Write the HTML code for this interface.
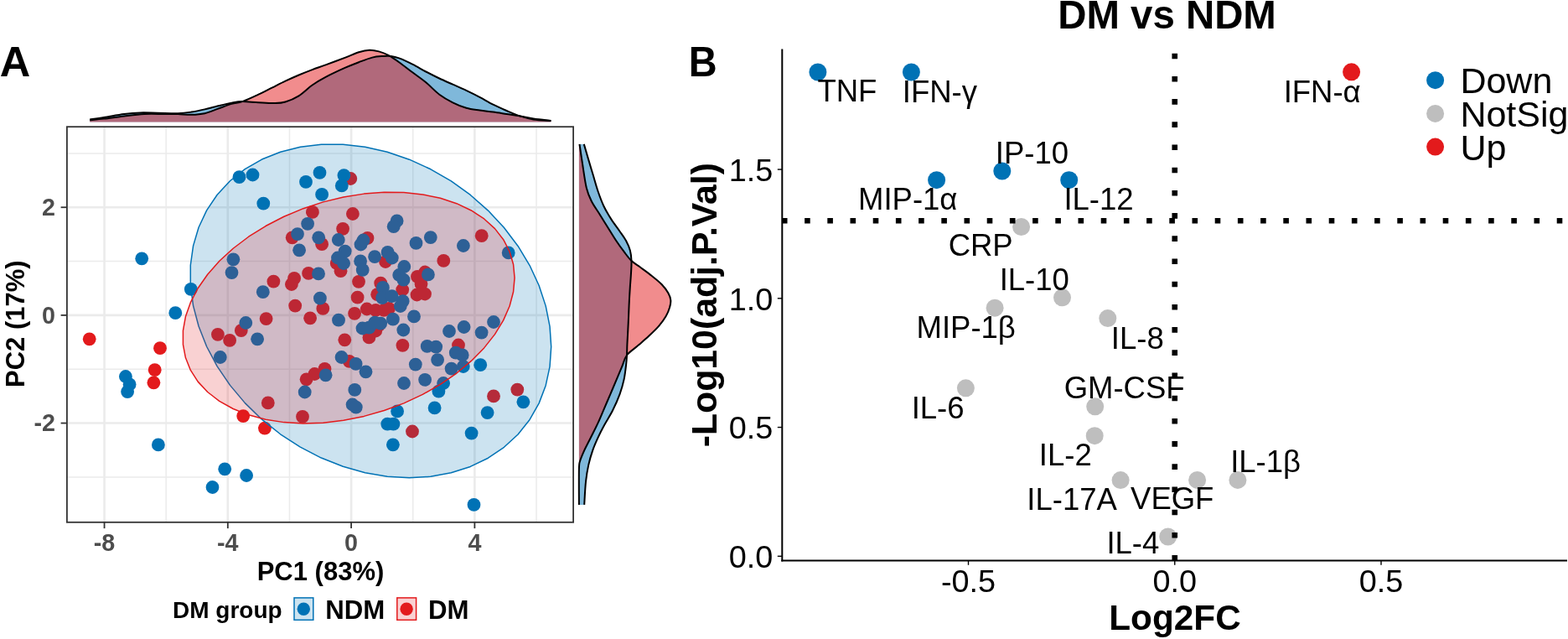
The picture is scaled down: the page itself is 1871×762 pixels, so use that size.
<!DOCTYPE html><html><head><meta charset="utf-8"><style>html,body{margin:0;padding:0;background:#fff;overflow:hidden}svg{display:block}</style></head><body>
<svg width="1871" height="762" viewBox="0 0 1871 762" font-family="&apos;Liberation Sans&apos;, Arial, sans-serif">
<rect width="1871" height="762" fill="#fff"/>
<text x="-0.3" y="90.7" font-size="50.5" font-weight="bold">A</text>
<path d="M107.20,142.40 C110.00,142.00 117.18,141.07 124.00,140.00 C130.82,138.93 140.88,136.93 148.10,136.00 C155.32,135.07 160.62,134.62 167.30,134.40 C173.98,134.18 180.72,134.57 188.20,134.70 C195.68,134.83 205.52,135.38 212.20,135.20 C218.88,135.02 222.95,134.40 228.30,133.60 C233.65,132.80 238.97,131.62 244.30,130.40 C249.63,129.18 254.95,127.58 260.30,126.30 C265.65,125.02 271.58,123.57 276.40,122.70 C281.22,121.83 283.87,121.17 289.20,121.10 C294.53,121.03 301.98,121.97 308.40,122.30 C314.82,122.63 322.35,123.23 327.70,123.10 C333.05,122.97 335.70,122.97 340.50,121.50 C345.30,120.03 351.15,117.63 356.50,114.30 C361.85,110.97 367.25,105.23 372.60,101.50 C377.95,97.77 382.02,95.37 388.60,91.90 C395.18,88.43 405.52,83.65 412.10,80.70 C418.68,77.75 422.77,76.22 428.10,74.20 C433.43,72.18 439.28,69.80 444.10,68.60 C448.92,67.40 453.25,67.27 457.00,67.00 C460.75,66.73 463.40,66.60 466.60,67.00 C469.80,67.40 471.93,67.80 476.20,69.40 C480.47,71.00 486.85,73.92 492.20,76.60 C497.55,79.28 502.95,82.68 508.30,85.50 C513.65,88.32 518.97,90.97 524.30,93.50 C529.63,96.03 534.95,98.30 540.30,100.70 C545.65,103.10 551.05,105.37 556.40,107.90 C561.75,110.43 567.07,113.10 572.40,115.90 C577.73,118.70 583.05,122.02 588.40,124.70 C593.75,127.38 599.15,129.72 604.50,132.00 C609.85,134.28 615.17,136.67 620.50,138.40 C625.83,140.13 630.35,141.47 636.50,142.40 C642.65,143.33 653.92,143.73 657.40,144.00 L657.40,145.60 L107.20,145.60 Z" fill="#0072B5" fill-opacity="0.5"/>
<path d="M107.20,143.20 C110.00,142.93 117.18,142.40 124.00,141.60 C130.82,140.80 140.07,139.33 148.10,138.40 C156.13,137.47 164.18,136.40 172.20,136.00 C180.22,135.60 189.53,136.00 196.20,136.00 C202.87,136.00 206.85,135.87 212.20,136.00 C217.55,136.13 222.95,136.93 228.30,136.80 C233.65,136.67 238.97,136.40 244.30,135.20 C249.63,134.00 254.95,131.48 260.30,129.60 C265.65,127.72 271.58,125.32 276.40,123.90 C281.22,122.48 283.87,122.97 289.20,121.10 C294.53,119.23 302.52,115.43 308.40,112.70 C314.28,109.97 319.15,107.37 324.50,104.70 C329.85,102.03 335.17,99.23 340.50,96.70 C345.83,94.17 351.15,91.77 356.50,89.50 C361.85,87.23 367.25,85.12 372.60,83.10 C377.95,81.08 382.02,79.82 388.60,77.40 C395.18,74.98 405.52,71.13 412.10,68.60 C418.68,66.07 423.30,63.67 428.10,62.20 C432.90,60.73 436.90,59.93 440.90,59.80 C444.90,59.67 448.35,60.38 452.10,61.40 C455.85,62.42 459.38,63.77 463.40,65.90 C467.42,68.03 471.40,70.80 476.20,74.20 C481.00,77.60 486.85,82.28 492.20,86.30 C497.55,90.32 502.95,93.90 508.30,98.30 C513.65,102.70 518.97,108.70 524.30,112.70 C529.63,116.70 534.95,119.62 540.30,122.30 C545.65,124.98 551.05,127.25 556.40,128.80 C561.75,130.35 567.07,130.80 572.40,131.60 C577.73,132.40 583.05,132.87 588.40,133.60 C593.75,134.33 599.15,135.20 604.50,136.00 C609.85,136.80 615.17,137.47 620.50,138.40 C625.83,139.33 630.35,140.67 636.50,141.60 C642.65,142.53 653.92,143.60 657.40,144.00 L657.40,145.60 L107.20,145.60 Z" fill="#E31A1C" fill-opacity="0.5"/>
<path d="M107.20,142.40 C110.00,142.00 117.18,141.07 124.00,140.00 C130.82,138.93 140.88,136.93 148.10,136.00 C155.32,135.07 160.62,134.62 167.30,134.40 C173.98,134.18 180.72,134.57 188.20,134.70 C195.68,134.83 205.52,135.38 212.20,135.20 C218.88,135.02 222.95,134.40 228.30,133.60 C233.65,132.80 238.97,131.62 244.30,130.40 C249.63,129.18 254.95,127.58 260.30,126.30 C265.65,125.02 271.58,123.57 276.40,122.70 C281.22,121.83 283.87,121.17 289.20,121.10 C294.53,121.03 301.98,121.97 308.40,122.30 C314.82,122.63 322.35,123.23 327.70,123.10 C333.05,122.97 335.70,122.97 340.50,121.50 C345.30,120.03 351.15,117.63 356.50,114.30 C361.85,110.97 367.25,105.23 372.60,101.50 C377.95,97.77 382.02,95.37 388.60,91.90 C395.18,88.43 405.52,83.65 412.10,80.70 C418.68,77.75 422.77,76.22 428.10,74.20 C433.43,72.18 439.28,69.80 444.10,68.60 C448.92,67.40 453.25,67.27 457.00,67.00 C460.75,66.73 463.40,66.60 466.60,67.00 C469.80,67.40 471.93,67.80 476.20,69.40 C480.47,71.00 486.85,73.92 492.20,76.60 C497.55,79.28 502.95,82.68 508.30,85.50 C513.65,88.32 518.97,90.97 524.30,93.50 C529.63,96.03 534.95,98.30 540.30,100.70 C545.65,103.10 551.05,105.37 556.40,107.90 C561.75,110.43 567.07,113.10 572.40,115.90 C577.73,118.70 583.05,122.02 588.40,124.70 C593.75,127.38 599.15,129.72 604.50,132.00 C609.85,134.28 615.17,136.67 620.50,138.40 C625.83,140.13 630.35,141.47 636.50,142.40 C642.65,143.33 653.92,143.73 657.40,144.00" fill="none" stroke="#000" stroke-width="2"/>
<path d="M107.20,143.20 C110.00,142.93 117.18,142.40 124.00,141.60 C130.82,140.80 140.07,139.33 148.10,138.40 C156.13,137.47 164.18,136.40 172.20,136.00 C180.22,135.60 189.53,136.00 196.20,136.00 C202.87,136.00 206.85,135.87 212.20,136.00 C217.55,136.13 222.95,136.93 228.30,136.80 C233.65,136.67 238.97,136.40 244.30,135.20 C249.63,134.00 254.95,131.48 260.30,129.60 C265.65,127.72 271.58,125.32 276.40,123.90 C281.22,122.48 283.87,122.97 289.20,121.10 C294.53,119.23 302.52,115.43 308.40,112.70 C314.28,109.97 319.15,107.37 324.50,104.70 C329.85,102.03 335.17,99.23 340.50,96.70 C345.83,94.17 351.15,91.77 356.50,89.50 C361.85,87.23 367.25,85.12 372.60,83.10 C377.95,81.08 382.02,79.82 388.60,77.40 C395.18,74.98 405.52,71.13 412.10,68.60 C418.68,66.07 423.30,63.67 428.10,62.20 C432.90,60.73 436.90,59.93 440.90,59.80 C444.90,59.67 448.35,60.38 452.10,61.40 C455.85,62.42 459.38,63.77 463.40,65.90 C467.42,68.03 471.40,70.80 476.20,74.20 C481.00,77.60 486.85,82.28 492.20,86.30 C497.55,90.32 502.95,93.90 508.30,98.30 C513.65,102.70 518.97,108.70 524.30,112.70 C529.63,116.70 534.95,119.62 540.30,122.30 C545.65,124.98 551.05,127.25 556.40,128.80 C561.75,130.35 567.07,130.80 572.40,131.60 C577.73,132.40 583.05,132.87 588.40,133.60 C593.75,134.33 599.15,135.20 604.50,136.00 C609.85,136.80 615.17,137.47 620.50,138.40 C625.83,139.33 630.35,140.67 636.50,141.60 C642.65,142.53 653.92,143.60 657.40,144.00" fill="none" stroke="#000" stroke-width="2"/>
<path d="M696.80,171.90 C697.62,174.68 699.90,182.53 701.70,188.60 C703.50,194.67 705.63,201.73 707.60,208.30 C709.57,214.87 711.37,221.77 713.50,228.00 C715.63,234.23 717.77,240.13 720.40,245.70 C723.03,251.27 726.18,256.48 729.30,261.40 C732.42,266.32 736.15,270.93 739.10,275.20 C742.05,279.47 744.87,283.07 747.00,287.00 C749.13,290.93 750.82,294.78 751.90,298.80 C752.98,302.82 753.32,306.63 753.50,311.10 C753.68,315.57 753.28,320.35 753.00,325.60 C752.72,330.85 752.17,336.92 751.80,342.60 C751.43,348.28 751.08,354.00 750.80,359.70 C750.52,365.40 750.35,371.12 750.10,376.80 C749.85,382.48 749.58,388.12 749.30,393.80 C749.02,399.48 748.62,405.95 748.40,410.90 C748.18,415.85 748.22,419.48 748.00,423.50 C747.78,427.52 747.67,430.18 747.10,435.00 C746.53,439.82 745.85,446.60 744.60,452.40 C743.35,458.20 741.88,463.57 739.60,469.80 C737.32,476.03 734.02,483.57 730.90,489.80 C727.78,496.03 723.82,501.80 720.90,507.20 C717.98,512.60 715.68,517.22 713.40,522.20 C711.12,527.18 709.07,531.70 707.20,537.10 C705.33,542.50 703.57,548.37 702.20,554.60 C700.83,560.83 699.83,566.62 699.00,574.50 C698.17,582.38 697.50,597.33 697.20,601.90 L690.90,601.90 L690.90,171.90 Z" fill="#0072B5" fill-opacity="0.5"/>
<path d="M691.50,171.90 C692.07,175.67 693.52,185.82 694.90,194.50 C696.28,203.18 698.00,216.45 699.80,224.00 C701.60,231.55 703.08,234.55 705.70,239.80 C708.32,245.05 712.23,250.27 715.50,255.50 C718.77,260.73 722.02,265.95 725.30,271.20 C728.58,276.45 731.92,282.08 735.20,287.00 C738.48,291.92 741.95,296.68 745.00,300.70 C748.05,304.72 750.32,308.08 753.50,311.10 C756.68,314.12 760.05,315.82 764.10,318.80 C768.15,321.78 773.53,325.60 777.80,329.00 C782.07,332.40 786.43,335.78 789.70,339.20 C792.97,342.62 795.63,346.37 797.40,349.50 C799.17,352.63 800.02,355.17 800.30,358.00 C800.58,360.83 800.02,363.37 799.10,366.50 C798.18,369.63 796.93,373.10 794.80,376.80 C792.67,380.50 789.70,384.73 786.30,388.70 C782.90,392.67 778.67,396.62 774.40,400.60 C770.13,404.58 765.10,408.78 760.70,412.60 C756.30,416.42 751.10,419.37 748.00,423.50 C744.90,427.63 744.13,432.58 742.10,437.40 C740.07,442.22 738.08,447.00 735.80,452.40 C733.52,457.80 730.88,463.98 728.40,469.80 C725.92,475.62 723.40,481.48 720.90,487.30 C718.40,493.12 716.10,498.88 713.40,504.70 C710.70,510.52 707.40,516.80 704.70,522.20 C702.00,527.60 699.28,532.53 697.20,537.10 C695.12,541.67 693.25,545.85 692.20,549.60 C691.15,553.35 691.12,550.88 690.90,559.60 C690.68,568.32 690.90,594.85 690.90,601.90 L690.90,601.90 L690.90,171.90 Z" fill="#E31A1C" fill-opacity="0.5"/>
<path d="M696.80,171.90 C697.62,174.68 699.90,182.53 701.70,188.60 C703.50,194.67 705.63,201.73 707.60,208.30 C709.57,214.87 711.37,221.77 713.50,228.00 C715.63,234.23 717.77,240.13 720.40,245.70 C723.03,251.27 726.18,256.48 729.30,261.40 C732.42,266.32 736.15,270.93 739.10,275.20 C742.05,279.47 744.87,283.07 747.00,287.00 C749.13,290.93 750.82,294.78 751.90,298.80 C752.98,302.82 753.32,306.63 753.50,311.10 C753.68,315.57 753.28,320.35 753.00,325.60 C752.72,330.85 752.17,336.92 751.80,342.60 C751.43,348.28 751.08,354.00 750.80,359.70 C750.52,365.40 750.35,371.12 750.10,376.80 C749.85,382.48 749.58,388.12 749.30,393.80 C749.02,399.48 748.62,405.95 748.40,410.90 C748.18,415.85 748.22,419.48 748.00,423.50 C747.78,427.52 747.67,430.18 747.10,435.00 C746.53,439.82 745.85,446.60 744.60,452.40 C743.35,458.20 741.88,463.57 739.60,469.80 C737.32,476.03 734.02,483.57 730.90,489.80 C727.78,496.03 723.82,501.80 720.90,507.20 C717.98,512.60 715.68,517.22 713.40,522.20 C711.12,527.18 709.07,531.70 707.20,537.10 C705.33,542.50 703.57,548.37 702.20,554.60 C700.83,560.83 699.83,566.62 699.00,574.50 C698.17,582.38 697.50,597.33 697.20,601.90" fill="none" stroke="#000" stroke-width="2"/>
<path d="M691.50,171.90 C692.07,175.67 693.52,185.82 694.90,194.50 C696.28,203.18 698.00,216.45 699.80,224.00 C701.60,231.55 703.08,234.55 705.70,239.80 C708.32,245.05 712.23,250.27 715.50,255.50 C718.77,260.73 722.02,265.95 725.30,271.20 C728.58,276.45 731.92,282.08 735.20,287.00 C738.48,291.92 741.95,296.68 745.00,300.70 C748.05,304.72 750.32,308.08 753.50,311.10 C756.68,314.12 760.05,315.82 764.10,318.80 C768.15,321.78 773.53,325.60 777.80,329.00 C782.07,332.40 786.43,335.78 789.70,339.20 C792.97,342.62 795.63,346.37 797.40,349.50 C799.17,352.63 800.02,355.17 800.30,358.00 C800.58,360.83 800.02,363.37 799.10,366.50 C798.18,369.63 796.93,373.10 794.80,376.80 C792.67,380.50 789.70,384.73 786.30,388.70 C782.90,392.67 778.67,396.62 774.40,400.60 C770.13,404.58 765.10,408.78 760.70,412.60 C756.30,416.42 751.10,419.37 748.00,423.50 C744.90,427.63 744.13,432.58 742.10,437.40 C740.07,442.22 738.08,447.00 735.80,452.40 C733.52,457.80 730.88,463.98 728.40,469.80 C725.92,475.62 723.40,481.48 720.90,487.30 C718.40,493.12 716.10,498.88 713.40,504.70 C710.70,510.52 707.40,516.80 704.70,522.20 C702.00,527.60 699.28,532.53 697.20,537.10 C695.12,541.67 693.25,545.85 692.20,549.60 C691.15,553.35 691.12,550.88 690.90,559.60 C690.68,568.32 690.90,594.85 690.90,601.90" fill="none" stroke="#000" stroke-width="2"/>
<rect x="79.9" y="151.2" width="604.2" height="471.6" fill="#fff"/>
<g stroke="#EBEBEB">
<line x1="198.18" x2="198.18" y1="151.2" y2="622.8" stroke-width="1.5"/>
<line x1="345.46" x2="345.46" y1="151.2" y2="622.8" stroke-width="1.5"/>
<line x1="492.74" x2="492.74" y1="151.2" y2="622.8" stroke-width="1.5"/>
<line x1="640.02" x2="640.02" y1="151.2" y2="622.8" stroke-width="1.5"/>
<line y1="568.89" y2="568.89" x1="79.9" x2="684.1" stroke-width="1.5"/>
<line y1="440.23" y2="440.23" x1="79.9" x2="684.1" stroke-width="1.5"/>
<line y1="311.57" y2="311.57" x1="79.9" x2="684.1" stroke-width="1.5"/>
<line y1="182.91" y2="182.91" x1="79.9" x2="684.1" stroke-width="1.5"/>
<line x1="124.54" x2="124.54" y1="151.2" y2="622.8" stroke-width="2.6"/>
<line x1="271.82" x2="271.82" y1="151.2" y2="622.8" stroke-width="2.6"/>
<line x1="419.10" x2="419.10" y1="151.2" y2="622.8" stroke-width="2.6"/>
<line x1="566.38" x2="566.38" y1="151.2" y2="622.8" stroke-width="2.6"/>
<line y1="504.56" y2="504.56" x1="79.9" x2="684.1" stroke-width="2.6"/>
<line y1="375.90" y2="375.90" x1="79.9" x2="684.1" stroke-width="2.6"/>
<line y1="247.24" y2="247.24" x1="79.9" x2="684.1" stroke-width="2.6"/>
</g>
<g>
<circle cx="106.7" cy="404.3" r="7.9" fill="#E31A1C"/>
<circle cx="418.3" cy="213.0" r="7.9" fill="#E31A1C"/>
<circle cx="372.9" cy="252.9" r="7.9" fill="#E31A1C"/>
<circle cx="420.9" cy="255.0" r="7.9" fill="#E31A1C"/>
<circle cx="409.1" cy="272.8" r="7.9" fill="#E31A1C"/>
<circle cx="348.7" cy="283.3" r="7.9" fill="#E31A1C"/>
<circle cx="384.1" cy="291.2" r="7.9" fill="#E31A1C"/>
<circle cx="438.5" cy="283.9" r="7.9" fill="#E31A1C"/>
<circle cx="401.7" cy="314.0" r="7.9" fill="#E31A1C"/>
<circle cx="406.5" cy="323.2" r="7.9" fill="#E31A1C"/>
<circle cx="326.4" cy="335.6" r="7.9" fill="#E31A1C"/>
<circle cx="351.1" cy="331.9" r="7.9" fill="#E31A1C"/>
<circle cx="347.9" cy="339.0" r="7.9" fill="#E31A1C"/>
<circle cx="368.1" cy="325.9" r="7.9" fill="#E31A1C"/>
<circle cx="428.0" cy="335.8" r="7.9" fill="#E31A1C"/>
<circle cx="454.2" cy="337.7" r="7.9" fill="#E31A1C"/>
<circle cx="574.7" cy="281.2" r="7.9" fill="#E31A1C"/>
<circle cx="529.3" cy="310.9" r="7.9" fill="#E31A1C"/>
<circle cx="460.0" cy="312.0" r="7.9" fill="#E31A1C"/>
<circle cx="498.0" cy="329.8" r="7.9" fill="#E31A1C"/>
<circle cx="507.2" cy="324.5" r="7.9" fill="#E31A1C"/>
<circle cx="502.5" cy="338.4" r="7.9" fill="#E31A1C"/>
<circle cx="480.2" cy="345.5" r="7.9" fill="#E31A1C"/>
<circle cx="497.5" cy="351.5" r="7.9" fill="#E31A1C"/>
<circle cx="507.0" cy="350.5" r="7.9" fill="#E31A1C"/>
<circle cx="547.0" cy="411.5" r="7.9" fill="#E31A1C"/>
<circle cx="589.0" cy="472.4" r="7.9" fill="#E31A1C"/>
<circle cx="617.3" cy="464.6" r="7.9" fill="#E31A1C"/>
<circle cx="450.2" cy="351.2" r="7.9" fill="#E31A1C"/>
<circle cx="352.2" cy="364.6" r="7.9" fill="#E31A1C"/>
<circle cx="385.3" cy="367.9" r="7.9" fill="#E31A1C"/>
<circle cx="426.6" cy="354.7" r="7.9" fill="#E31A1C"/>
<circle cx="370.1" cy="379.3" r="7.9" fill="#E31A1C"/>
<circle cx="423.1" cy="373.8" r="7.9" fill="#E31A1C"/>
<circle cx="437.8" cy="368.5" r="7.9" fill="#E31A1C"/>
<circle cx="448.3" cy="369.9" r="7.9" fill="#E31A1C"/>
<circle cx="458.1" cy="369.9" r="7.9" fill="#E31A1C"/>
<circle cx="464.0" cy="367.9" r="7.9" fill="#E31A1C"/>
<circle cx="452.2" cy="387.6" r="7.9" fill="#E31A1C"/>
<circle cx="448.3" cy="394.5" r="7.9" fill="#E31A1C"/>
<circle cx="440.4" cy="402.4" r="7.9" fill="#E31A1C"/>
<circle cx="480.4" cy="411.8" r="7.9" fill="#E31A1C"/>
<circle cx="411.3" cy="405.3" r="7.9" fill="#E31A1C"/>
<circle cx="416.8" cy="430.9" r="7.9" fill="#E31A1C"/>
<circle cx="387.5" cy="439.8" r="7.9" fill="#E31A1C"/>
<circle cx="375.4" cy="446.0" r="7.9" fill="#E31A1C"/>
<circle cx="365.6" cy="452.3" r="7.9" fill="#E31A1C"/>
<circle cx="191.0" cy="415.2" r="7.9" fill="#E31A1C"/>
<circle cx="184.7" cy="441.2" r="7.9" fill="#E31A1C"/>
<circle cx="183.4" cy="456.3" r="7.9" fill="#E31A1C"/>
<circle cx="317.6" cy="380.1" r="7.9" fill="#E31A1C"/>
<circle cx="287.8" cy="394.1" r="7.9" fill="#E31A1C"/>
<circle cx="259.9" cy="398.8" r="7.9" fill="#E31A1C"/>
<circle cx="274.1" cy="405.9" r="7.9" fill="#E31A1C"/>
<circle cx="319.8" cy="480.4" r="7.9" fill="#E31A1C"/>
<circle cx="290.2" cy="496.1" r="7.9" fill="#E31A1C"/>
<circle cx="315.9" cy="510.6" r="7.9" fill="#E31A1C"/>
<circle cx="361.0" cy="496.9" r="7.9" fill="#E31A1C"/>
<circle cx="492.0" cy="514.5" r="7.9" fill="#E31A1C"/>
<circle cx="169.2" cy="308.3" r="7.9" fill="#0072B5"/>
<circle cx="227.8" cy="344.8" r="7.9" fill="#0072B5"/>
<circle cx="285.5" cy="211.2" r="7.9" fill="#0072B5"/>
<circle cx="301.5" cy="208.5" r="7.9" fill="#0072B5"/>
<circle cx="314.3" cy="242.7" r="7.9" fill="#0072B5"/>
<circle cx="365.0" cy="216.9" r="7.9" fill="#0072B5"/>
<circle cx="381.5" cy="205.9" r="7.9" fill="#0072B5"/>
<circle cx="384.1" cy="231.9" r="7.9" fill="#0072B5"/>
<circle cx="410.4" cy="209.1" r="7.9" fill="#0072B5"/>
<circle cx="407.8" cy="221.4" r="7.9" fill="#0072B5"/>
<circle cx="367.1" cy="266.8" r="7.9" fill="#0072B5"/>
<circle cx="355.0" cy="279.1" r="7.9" fill="#0072B5"/>
<circle cx="380.2" cy="283.3" r="7.9" fill="#0072B5"/>
<circle cx="403.8" cy="286.0" r="7.9" fill="#0072B5"/>
<circle cx="430.5" cy="291.5" r="7.9" fill="#0072B5"/>
<circle cx="433.5" cy="286.5" r="7.9" fill="#0072B5"/>
<circle cx="357.1" cy="298.3" r="7.9" fill="#0072B5"/>
<circle cx="411.7" cy="299.6" r="7.9" fill="#0072B5"/>
<circle cx="403.0" cy="307.5" r="7.9" fill="#0072B5"/>
<circle cx="410.1" cy="314.0" r="7.9" fill="#0072B5"/>
<circle cx="430.1" cy="311.4" r="7.9" fill="#0072B5"/>
<circle cx="432.7" cy="321.9" r="7.9" fill="#0072B5"/>
<circle cx="447.1" cy="306.2" r="7.9" fill="#0072B5"/>
<circle cx="278.4" cy="309.3" r="7.9" fill="#0072B5"/>
<circle cx="276.5" cy="325.1" r="7.9" fill="#0072B5"/>
<circle cx="380.0" cy="326.4" r="7.9" fill="#0072B5"/>
<circle cx="456.9" cy="342.9" r="7.9" fill="#0072B5"/>
<circle cx="313.8" cy="348.2" r="7.9" fill="#0072B5"/>
<circle cx="473.6" cy="263.4" r="7.9" fill="#0072B5"/>
<circle cx="469.7" cy="270.2" r="7.9" fill="#0072B5"/>
<circle cx="513.8" cy="283.1" r="7.9" fill="#0072B5"/>
<circle cx="496.5" cy="289.9" r="7.9" fill="#0072B5"/>
<circle cx="552.9" cy="293.0" r="7.9" fill="#0072B5"/>
<circle cx="606.7" cy="301.4" r="7.9" fill="#0072B5"/>
<circle cx="462.6" cy="300.9" r="7.9" fill="#0072B5"/>
<circle cx="467.8" cy="307.5" r="7.9" fill="#0072B5"/>
<circle cx="482.3" cy="318.0" r="7.9" fill="#0072B5"/>
<circle cx="476.2" cy="328.0" r="7.9" fill="#0072B5"/>
<circle cx="481.5" cy="333.7" r="7.9" fill="#0072B5"/>
<circle cx="510.9" cy="327.4" r="7.9" fill="#0072B5"/>
<circle cx="494.0" cy="377.4" r="7.9" fill="#0072B5"/>
<circle cx="536.0" cy="395.0" r="7.9" fill="#0072B5"/>
<circle cx="553.6" cy="390.0" r="7.9" fill="#0072B5"/>
<circle cx="574.6" cy="396.6" r="7.9" fill="#0072B5"/>
<circle cx="589.0" cy="384.0" r="7.9" fill="#0072B5"/>
<circle cx="509.7" cy="412.9" r="7.9" fill="#0072B5"/>
<circle cx="520.2" cy="413.6" r="7.9" fill="#0072B5"/>
<circle cx="543.8" cy="420.7" r="7.9" fill="#0072B5"/>
<circle cx="551.7" cy="423.4" r="7.9" fill="#0072B5"/>
<circle cx="522.1" cy="429.1" r="7.9" fill="#0072B5"/>
<circle cx="495.8" cy="434.6" r="7.9" fill="#0072B5"/>
<circle cx="538.6" cy="439.6" r="7.9" fill="#0072B5"/>
<circle cx="552.8" cy="437.0" r="7.9" fill="#0072B5"/>
<circle cx="573.2" cy="435.2" r="7.9" fill="#0072B5"/>
<circle cx="507.1" cy="452.8" r="7.9" fill="#0072B5"/>
<circle cx="529.1" cy="457.0" r="7.9" fill="#0072B5"/>
<circle cx="523.4" cy="466.7" r="7.9" fill="#0072B5"/>
<circle cx="518.6" cy="486.4" r="7.9" fill="#0072B5"/>
<circle cx="624.4" cy="479.3" r="7.9" fill="#0072B5"/>
<circle cx="581.6" cy="492.1" r="7.9" fill="#0072B5"/>
<circle cx="456.1" cy="355.1" r="7.9" fill="#0072B5"/>
<circle cx="467.6" cy="353.1" r="7.9" fill="#0072B5"/>
<circle cx="480.7" cy="359.1" r="7.9" fill="#0072B5"/>
<circle cx="477.8" cy="365.0" r="7.9" fill="#0072B5"/>
<circle cx="381.9" cy="355.7" r="7.9" fill="#0072B5"/>
<circle cx="404.0" cy="381.7" r="7.9" fill="#0072B5"/>
<circle cx="468.9" cy="380.7" r="7.9" fill="#0072B5"/>
<circle cx="432.5" cy="391.5" r="7.9" fill="#0072B5"/>
<circle cx="440.4" cy="390.6" r="7.9" fill="#0072B5"/>
<circle cx="447.3" cy="384.6" r="7.9" fill="#0072B5"/>
<circle cx="454.2" cy="385.6" r="7.9" fill="#0072B5"/>
<circle cx="481.3" cy="393.5" r="7.9" fill="#0072B5"/>
<circle cx="407.5" cy="426.0" r="7.9" fill="#0072B5"/>
<circle cx="424.6" cy="433.9" r="7.9" fill="#0072B5"/>
<circle cx="436.5" cy="443.3" r="7.9" fill="#0072B5"/>
<circle cx="388.6" cy="447.3" r="7.9" fill="#0072B5"/>
<circle cx="209.3" cy="373.2" r="7.9" fill="#0072B5"/>
<circle cx="293.3" cy="385.0" r="7.9" fill="#0072B5"/>
<circle cx="307.1" cy="404.3" r="7.9" fill="#0072B5"/>
<circle cx="262.8" cy="426.0" r="7.9" fill="#0072B5"/>
<circle cx="149.9" cy="449.0" r="7.9" fill="#0072B5"/>
<circle cx="154.6" cy="458.4" r="7.9" fill="#0072B5"/>
<circle cx="152.1" cy="467.1" r="7.9" fill="#0072B5"/>
<circle cx="188.9" cy="530.4" r="7.9" fill="#0072B5"/>
<circle cx="268.2" cy="559.3" r="7.9" fill="#0072B5"/>
<circle cx="253.5" cy="581.0" r="7.9" fill="#0072B5"/>
<circle cx="363.7" cy="467.5" r="7.9" fill="#0072B5"/>
<circle cx="423.3" cy="464.9" r="7.9" fill="#0072B5"/>
<circle cx="420.6" cy="482.5" r="7.9" fill="#0072B5"/>
<circle cx="424.8" cy="485.6" r="7.9" fill="#0072B5"/>
<circle cx="294.1" cy="567.0" r="7.9" fill="#0072B5"/>
<circle cx="482.0" cy="457.0" r="7.9" fill="#0072B5"/>
<circle cx="474.1" cy="490.4" r="7.9" fill="#0072B5"/>
<circle cx="462.3" cy="505.6" r="7.9" fill="#0072B5"/>
<circle cx="469.4" cy="505.6" r="7.9" fill="#0072B5"/>
<circle cx="468.9" cy="530.3" r="7.9" fill="#0072B5"/>
<circle cx="562.6" cy="516.6" r="7.9" fill="#0072B5"/>
<circle cx="565.5" cy="601.9" r="7.9" fill="#0072B5"/>
</g>
<path d="M657.70,413.56 L656.07,389.36 L651.19,364.88 L643.15,340.48 L632.07,316.55 L618.11,293.44 L601.48,271.51 L582.44,251.08 L561.28,232.46 L538.31,215.95 L513.89,201.78 L488.38,190.18 L462.17,181.31 L435.67,175.32 L409.26,172.29 L383.35,172.27 L358.34,175.26 L334.60,181.22 L312.49,190.05 L292.35,201.62 L274.49,215.76 L259.16,232.24 L246.62,250.83 L237.04,271.24 L230.57,293.16 L227.31,316.26 L227.31,340.18 L230.57,364.57 L237.04,389.05 L246.62,413.26 L259.16,436.83 L274.49,459.39 L292.35,480.62 L312.49,500.17 L334.60,517.77 L358.34,533.14 L383.35,546.05 L409.26,556.31 L435.67,563.75 L462.17,568.27 L488.38,569.80 L513.89,568.31 L538.31,563.83 L561.28,556.42 L582.44,546.20 L601.48,533.32 L618.11,517.98 L632.07,500.41 L643.15,480.87 L651.19,459.67 L656.07,437.12 L657.70,413.56 Z" fill="#0072B5" fill-opacity="0.2" stroke="#0072B5" stroke-width="1.5" stroke-linejoin="round"/>
<path d="M614.05,331.39 L612.55,315.29 L608.07,299.98 L600.68,285.68 L590.49,272.62 L577.66,260.98 L562.37,250.96 L544.87,242.69 L525.42,236.31 L504.31,231.91 L481.86,229.56 L458.41,229.30 L434.32,231.12 L409.95,235.00 L385.68,240.89 L361.86,248.68 L338.87,258.28 L317.05,269.52 L296.73,282.23 L278.22,296.24 L261.79,311.32 L247.71,327.24 L236.17,343.77 L227.37,360.65 L221.42,377.62 L218.43,394.44 L218.43,410.84 L221.42,426.58 L227.37,441.41 L236.17,455.12 L247.71,467.49 L261.79,478.34 L278.22,487.50 L296.73,494.84 L317.05,500.24 L338.87,503.62 L361.86,504.93 L385.68,504.15 L409.95,501.29 L434.32,496.40 L458.41,489.55 L481.86,480.84 L504.31,470.40 L525.42,458.40 L544.87,445.01 L562.37,430.44 L577.66,414.91 L590.49,398.66 L600.68,381.92 L608.07,364.96 L612.55,348.03 L614.05,331.39 Z" fill="#E31A1C" fill-opacity="0.2" stroke="#E31A1C" stroke-width="1.5" stroke-linejoin="round"/>
<rect x="79.9" y="151.2" width="604.2" height="471.6" fill="none" stroke="#333" stroke-width="1.8"/>
<g stroke="#333" stroke-width="1.8">
<line x1="124.54" x2="124.54" y1="622.8" y2="630.1"/>
<line x1="271.82" x2="271.82" y1="622.8" y2="630.1"/>
<line x1="419.10" x2="419.10" y1="622.8" y2="630.1"/>
<line x1="566.38" x2="566.38" y1="622.8" y2="630.1"/>
<line y1="504.56" y2="504.56" x1="72.6" x2="79.9"/>
<line y1="375.90" y2="375.90" x1="72.6" x2="79.9"/>
<line y1="247.24" y2="247.24" x1="72.6" x2="79.9"/>
</g>
<g font-size="28.7" font-weight="bold" fill="#4D4D4D">
<text x="124.54" y="656.5" text-anchor="middle">-8</text>
<text x="271.82" y="656.5" text-anchor="middle">-4</text>
<text x="419.10" y="656.5" text-anchor="middle">0</text>
<text x="566.38" y="656.5" text-anchor="middle">4</text>
<text x="66" y="514.46" text-anchor="end">-2</text>
<text x="66" y="385.80" text-anchor="end">0</text>
<text x="66" y="257.14" text-anchor="end">2</text>
</g>
<text x="382.5" y="691.7" font-size="31" font-weight="bold" text-anchor="middle">PC1 (83%)</text>
<text transform="translate(28.8,386.2) rotate(-90)" font-size="31" font-weight="bold" text-anchor="middle">PC2 (17%)</text>
<text x="206" y="736.6" font-size="28" font-weight="bold">DM group</text>
<rect x="351.0" y="712.9" width="22.8" height="26.4" fill="#0072B5" fill-opacity="0.2" stroke="#0072B5" stroke-width="1.5"/>
<circle cx="362.3" cy="726.3" r="7.7" fill="#0072B5"/>
<text x="388.2" y="737.6" font-size="31.2" font-weight="bold">NDM</text>
<rect x="473.8" y="712.9" width="22.8" height="26.4" fill="#E31A1C" fill-opacity="0.2" stroke="#E31A1C" stroke-width="1.5"/>
<circle cx="485.1" cy="726.3" r="7.7" fill="#E31A1C"/>
<text x="511.0" y="737.6" font-size="31.2" font-weight="bold">DM</text>
<text transform="translate(825,90.7) scale(0.93,1)" x="-3.38" y="0" font-size="50.5" font-weight="bold">B</text>
<text x="1392.5" y="34.2" font-size="47.4" font-weight="bold" text-anchor="middle">DM vs NDM</text>
<line x1="933.3" x2="933.3" y1="58.4" y2="669.4" stroke="#000" stroke-width="2"/>
<line x1="932.3" x2="1870" y1="668.4" y2="668.4" stroke="#000" stroke-width="2"/>
<g stroke="#000" stroke-width="1.4">
<line x1="927.8" x2="933.3" y1="663.30" y2="663.30"/>
<line x1="927.8" x2="933.3" y1="509.55" y2="509.55"/>
<line x1="927.8" x2="933.3" y1="355.80" y2="355.80"/>
<line x1="927.8" x2="933.3" y1="202.05" y2="202.05"/>
<line y1="668.4" y2="673.8" x1="1155.50" x2="1155.50"/>
<line y1="668.4" y2="673.8" x1="1401.75" x2="1401.75"/>
<line y1="668.4" y2="673.8" x1="1648.00" x2="1648.00"/>
</g>
<g font-size="37.8">
<text x="922.4" y="677.10" text-anchor="end">0.0</text>
<text x="922.4" y="523.35" text-anchor="end">0.5</text>
<text x="922.4" y="369.60" text-anchor="end">1.0</text>
<text x="922.4" y="215.85" text-anchor="end">1.5</text>
<text x="1155.50" y="706" text-anchor="middle">-0.5</text>
<text x="1401.75" y="706" text-anchor="middle">0.0</text>
<text x="1648.00" y="706" text-anchor="middle">0.5</text>
</g>
<text x="1402" y="751.2" font-size="42.3" font-weight="bold" text-anchor="middle">Log2FC</text>
<text transform="translate(855,363.7) rotate(-90)" font-size="42.8" font-weight="bold" text-anchor="middle">-Log10(adj.P.Val)</text>
<circle cx="975.9" cy="86.0" r="10.5" fill="#0072B5"/>
<circle cx="1087.4" cy="86.0" r="10.5" fill="#0072B5"/>
<circle cx="1612.6" cy="85.8" r="10.5" fill="#E31A1C"/>
<circle cx="1117.6" cy="214.7" r="10.5" fill="#0072B5"/>
<circle cx="1195.8" cy="204.0" r="10.5" fill="#0072B5"/>
<circle cx="1275.7" cy="214.7" r="10.5" fill="#0072B5"/>
<circle cx="1218.6" cy="270.5" r="10.5" fill="#BEBEBE"/>
<circle cx="1267.5" cy="354.8" r="10.5" fill="#BEBEBE"/>
<circle cx="1187.1" cy="367.2" r="10.5" fill="#BEBEBE"/>
<circle cx="1321.8" cy="379.6" r="10.5" fill="#BEBEBE"/>
<circle cx="1152.4" cy="462.8" r="10.5" fill="#BEBEBE"/>
<circle cx="1306.7" cy="484.8" r="10.5" fill="#BEBEBE"/>
<circle cx="1306.2" cy="519.7" r="10.5" fill="#BEBEBE"/>
<circle cx="1337.1" cy="572.6" r="10.5" fill="#BEBEBE"/>
<circle cx="1428.6" cy="572.4" r="10.5" fill="#BEBEBE"/>
<circle cx="1476.9" cy="572.4" r="10.5" fill="#BEBEBE"/>
<circle cx="1393.7" cy="640.0" r="10.5" fill="#BEBEBE"/>
<g font-size="36.5">
<text x="975.38" y="121.40">TNF</text>
<text x="1076.83" y="121.60">IFN-γ</text>
<text x="1531.63" y="121.50">IFN-α</text>
<text x="1024.01" y="250.20">MIP-1α</text>
<text x="1187.83" y="195.00">IP-10</text>
<text x="1269.43" y="250.20">IL-12</text>
<text x="1131.65" y="304.60">CRP</text>
<text x="1192.63" y="346.30">IL-10</text>
<text x="1093.51" y="403.20">MIP-1β</text>
<text x="1325.83" y="415.60">IL-8</text>
<text x="1087.63" y="499.40">IL-6</text>
<text x="1269.66" y="475.40">GM-CSF</text>
<text x="1239.83" y="555.10">IL-2</text>
<text x="1225.33" y="608.10">IL-17A</text>
<text x="1349.04" y="607.30">VEGF</text>
<text x="1468.13" y="562.90">IL-1β</text>
<text x="1320.43" y="659.70">IL-4</text>
</g>
<line x1="1401.75" x2="1401.75" y1="668.7" y2="58.4" stroke="#000" stroke-width="6.6" stroke-dasharray="6.6 20.6"/>
<line x1="932.9" x2="1871" y1="263.2" y2="263.2" stroke="#000" stroke-width="6.6" stroke-dasharray="6.6 20.6"/>
<circle cx="1712.6" cy="95.7" r="10.5" fill="#0072B5"/>
<text x="1742.4" y="111.1" font-size="43">Down</text>
<circle cx="1712.6" cy="135.4" r="10.5" fill="#BEBEBE"/>
<text x="1742.4" y="150.8" font-size="43">NotSig</text>
<circle cx="1712.6" cy="175.1" r="10.5" fill="#E31A1C"/>
<text x="1742.4" y="190.5" font-size="43">Up</text>
</svg></body></html>
